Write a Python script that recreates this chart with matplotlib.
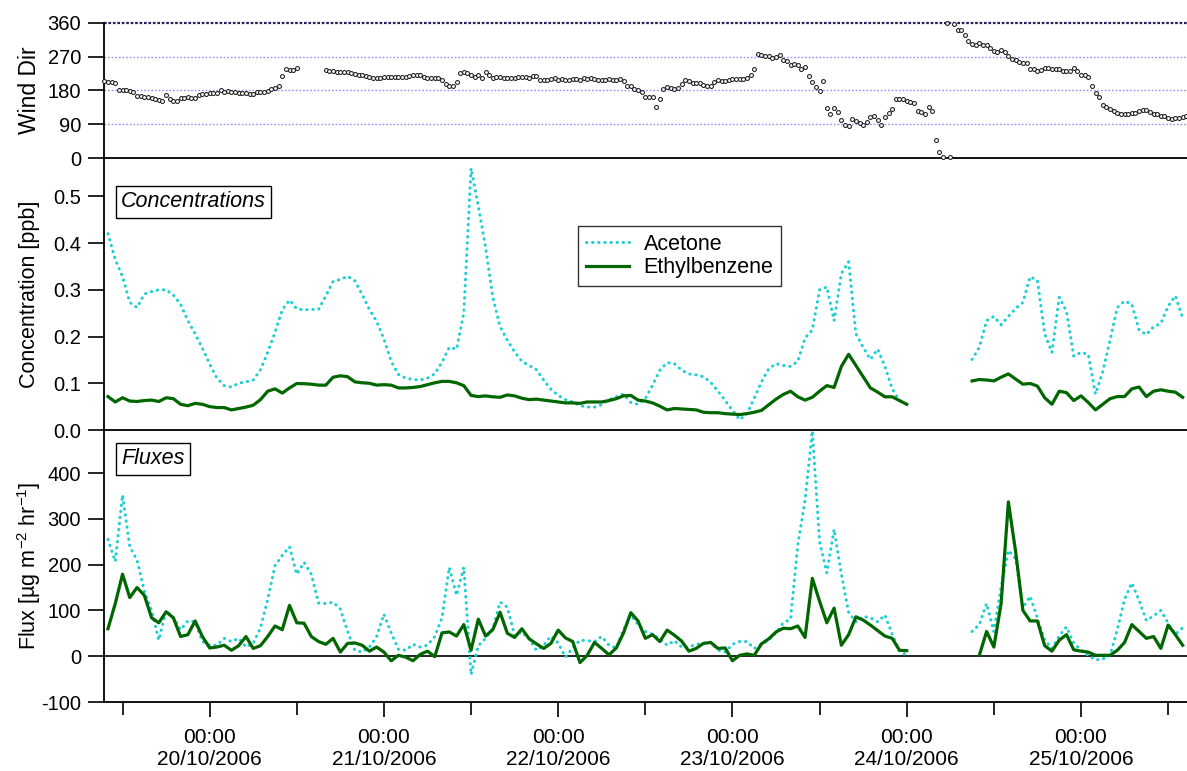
import numpy as np
import pandas as pd
import matplotlib
matplotlib.use('Agg')
import matplotlib.pyplot as plt
from matplotlib.lines import Line2D

plt.rcParams['font.family'] = ['Liberation Sans', 'DejaVu Sans']
plt.rcParams['axes.unicode_minus'] = False
nan = np.nan

# ---------------- data ----------------
hourly_start = '2006-10-19 10:00'   # hourly series
wind_start = '2006-10-19 09:30'     # 30-min wind series

wind_dir = [
    206, 203, 203, 200, 181, 180, 181, 178, 177, 166, 165, 163, 162, 160, 158, 154, 151, 167,
    158, 153, 152, 160, 161, 162, 160, 161, 169, 171, 170, 172, 173, 173, 181, 176, 178, 177,
    175, 173, 172, 172, 171, 171, 176, 176, 176, 178, 183, 187, 193, 218, 236, 234, 235, 240,
    nan, nan, nan, nan, nan, nan, nan,
    234, 231, 231, 228, 229, 229, 228, 226, 224, 222,
    220, 219, 216, 214, 212, 213, 216, 215, 216, 216,
    216, 215, 216, 218, 220, 222, 220, 215, 214, 212,
    212, 214, 209, 196, 191, 193, 202, 227, 230, 227,
    220, 216, 222, 214, 230, 220, 212, 215, 215, 214,
    213, 214, 214, 216, 216, 217, 214, 218, 218, 209,
    207, 209, 211, 212, 209, 210, 208, 209, 211, 211,
    209, 212, 211, 212,
    211, 209, 207, 209, 210, 208, 207, 211, 204, 193,
    191, 184, 180, 177, 163, 163, 162, 135, 157, 184,
    188, 186, 184, 187, 196, 209, 204, 201, 200, 199,
    195, 191, 191, 202, 209, 206, 204, 209, 211, 211,
    211, 211, 214, 220, 238, 277, 275, 273, 271, 267,
    269, 274, 260, 258, 248, 251, 249, 238, 243, 218,
    202, 189, 178, 204, 132, 118, 132, 122, 100, 89,
    86, 104, 99, 93, 89, 95, 109, 111, 102, 88,
    109, 120, 131, 156, 158, 158, 152, 148, 147, 124,
    122, 116, 136, 124, 49, 15, 4, 359, 2, 356,
    342, 340, 328, 311, 305, 300, 307, 302, 302, 292,
    284, 282, 289, 283, 271, 264, 260, 255, 253, 253,
    238, 236, 231, 234, 240, 239, 237, 238, 238, 231,
    232, 233, 240, 231, 222, 221, 216, 191, 172, 163,
    142, 137, 131, 124, 120, 116, 117, 118, 119, 120,
    125, 129, 127, 122, 117, 116, 111, 111, 107, 105,
    107, 107, 108, 111,
]

acetone_conc = [
    0.420, 0.365, 0.328, 0.273, 0.262, 0.291, 0.296, 0.300, 0.300, 0.289,
    0.269, 0.234, 0.206, 0.175, 0.141, 0.111, 0.095, 0.092, 0.100, 0.103,
    0.107, 0.129, 0.166, 0.209, 0.257, 0.278, 0.259, 0.257, 0.258, 0.258,
    0.287, 0.318, 0.322, 0.329, 0.319, 0.290, 0.258, 0.232, 0.195, 0.147,
    0.119, 0.111, 0.108, 0.107, 0.111, 0.120, 0.145, 0.177, 0.173, 0.250,
    0.560, 0.479, 0.391, 0.284, 0.221, 0.192, 0.167, 0.147, 0.138, 0.129,
    0.107, 0.087, 0.074, 0.065, 0.060, 0.052, 0.049, 0.049, 0.054, 0.065,
    0.071, 0.077, 0.059, 0.055, 0.067, 0.096, 0.128, 0.144, 0.142, 0.128,
    0.120, 0.118, 0.114, 0.102, 0.083, 0.063, 0.042, 0.022, 0.035, 0.068,
    0.103, 0.131, 0.142, 0.138, 0.136, 0.147, 0.197, 0.214, 0.300, 0.306,
    0.234, 0.335, 0.360, 0.206, 0.177, 0.151, 0.173, 0.136, 0.088, 0.063,
    0.055, nan, nan, nan, nan, nan, nan, nan, nan, 0.151,
    0.177, 0.234, 0.243, 0.225, 0.243, 0.260, 0.273, 0.328, 0.320, 0.206,
    0.166, 0.284, 0.254, 0.158, 0.166, 0.162, 0.077, 0.125, 0.192, 0.262,
    0.276, 0.269, 0.214, 0.204, 0.221, 0.228, 0.265, 0.287, 0.240,
]

ethylbenzene_conc = [
    0.0715, 0.060, 0.069, 0.062, 0.061, 0.063, 0.064, 0.061, 0.069, 0.067,
    0.055, 0.052, 0.057, 0.055, 0.050, 0.048, 0.048, 0.043, 0.046, 0.049,
    0.053, 0.065, 0.083, 0.088, 0.079, 0.090, 0.0995, 0.099, 0.098, 0.096,
    0.096, 0.113, 0.116, 0.114, 0.103, 0.101, 0.100, 0.096, 0.097, 0.096,
    0.090, 0.090, 0.091, 0.093, 0.097, 0.101, 0.104, 0.104, 0.101, 0.095,
    0.074, 0.0715, 0.073, 0.071, 0.070, 0.075, 0.073, 0.068, 0.065, 0.066,
    0.064, 0.062, 0.060, 0.058, 0.058, 0.057, 0.060, 0.060, 0.060, 0.063,
    0.067, 0.073, 0.074, 0.064, 0.062, 0.058, 0.051, 0.043, 0.046, 0.045,
    0.044, 0.043, 0.038, 0.037, 0.037, 0.035, 0.034, 0.033, 0.035, 0.038,
    0.042, 0.054, 0.066, 0.076, 0.083, 0.071, 0.064, 0.070, 0.083, 0.095,
    0.091, 0.136, 0.162, 0.138, 0.114, 0.090, 0.081, 0.071, 0.071, 0.063,
    0.055, nan, nan, nan, nan, nan, nan, nan, nan, 0.105,
    0.108, 0.107, 0.105, 0.113, 0.120, 0.109, 0.098, 0.0995, 0.094, 0.069,
    0.055, 0.083, 0.080, 0.063, 0.073, 0.059, 0.043, 0.055, 0.067, 0.0715,
    0.0715, 0.088, 0.092, 0.0715, 0.083, 0.086, 0.083, 0.081, 0.070,
]

acetone_flux = [
    255, 207, 352, 239, 210, 143, 100, 35, 100, 84,
    58, 77, 75, 32, 24, 24, 39, 32, 39, 20,
    28, 62, 124, 198, 220, 239, 179, 205, 179, 116,
    115, 118, 103, 54, 13, 9, 20, 43, 92, 51,
    15, 13, 26, 20, 24, 43, 84, 194, 133, 194,
    -40, 23, 39, 60, 118, 107, 45, 53, 38, 13,
    24, 44, 29, -2, 18, 35, 34, 32, 43, 24,
    18, 58, 90, 69, 54, 48, 38, 24, 34, 20,
    20, 26, 28, 30, 13, 9, 26, 32, 32, 17,
    26, 35, 51, 73, 81, 243, 341, 492, 250, 182,
    277, 179, 96, 75, 87, 84, 75, 90, 48, 11,
    2, nan, nan, nan, nan, nan, nan, nan, nan, 54,
    69, 115, 54, 152, 231, 213, 106, 131, 83, 35,
    17, 44, 64, 28, 14, 2, -8, -6, 2, 58,
    124, 160, 122, 78, 88, 100, 72, 48, 62,
]

ethylbenzene_flux = [
    60, 115, 179, 128, 150, 133, 84, 73, 97, 84,
    43, 47, 77, 43, 18, 20, 24, 13, 23, 43,
    17, 23, 43, 66, 58, 111, 73, 72, 43, 32,
    26, 39, 9, 28, 29, 24, 11, 20, 9, -10,
    2, -2, -10, 4, 11, -1, 51, 53, 44, 69,
    13, 81, 44, 58, 96, 50, 41, 60, 38, 27,
    17, 28, 57, 40, 32, -14, 2, 30, 17, 3,
    18, 51, 95, 77, 39, 47, 32, 57, 46, 33,
    11, 17, 28, 30, 17, 18, -10, 2, 5, 2,
    27, 38, 53, 61, 60, 66, 41, 170, 120, 73,
    105, 24, 47, 86, 79, 68, 56, 44, 39, 13,
    12, nan, nan, nan, nan, nan, nan, nan, nan, nan,
    2, 54, 20, 115, 337, 228, 100, 77, 77, 23,
    11, 35, 47, 14, 11, 9, 2, 2, 2, 13,
    30, 69, 54, 39, 43, 17, 68, 47, 24,
]

major_ticks = ['2006-10-20 00:00', '2006-10-21 00:00', '2006-10-22 00:00',
               '2006-10-23 00:00', '2006-10-24 00:00', '2006-10-25 00:00']
major_labels = ['00:00\n20/10/2006', '00:00\n21/10/2006', '00:00\n22/10/2006',
                '00:00\n23/10/2006', '00:00\n24/10/2006', '00:00\n25/10/2006']
minor_ticks = ['2006-10-19 12:00', '2006-10-20 12:00', '2006-10-21 12:00',
               '2006-10-22 12:00', '2006-10-23 12:00', '2006-10-24 12:00',
               '2006-10-25 12:00']
x_range = ['2006-10-19 09:27', '2006-10-25 14:36']

series_names = ['Acetone', 'Ethylbenzene']
wind_ticks = [0, 90, 180, 270, 360]
conc_ticks = [0.0, 0.1, 0.2, 0.3, 0.4, 0.5]
flux_ticks = [-100, 0, 100, 200, 300, 400]

# ---------------- figure ----------------
hourly_times = pd.date_range(hourly_start, periods=len(acetone_conc), freq='h')
wind_times = pd.date_range(wind_start, periods=len(wind_dir), freq='30min')

W, H = 1187, 771
fig = plt.figure(figsize=(W / 100, H / 100), dpi=100)
left = 104 / W
width = 1 - left
ax1 = fig.add_axes([left, 1 - 158 / H, width, 135 / H])
ax2 = fig.add_axes([left, 1 - 430 / H, width, 272 / H], sharex=ax1)
ax3 = fig.add_axes([left, 1 - 702 / H, width, 272 / H], sharex=ax1)

CYAN = '#1ccfd2'
GREEN = '#006600'

# wind
for v in (90, 180, 270):
    ax1.axhline(v, color='#9090ff', lw=1.0, ls=(0, (1.2, 1.4)), zorder=1)
ax1.axhline(360, color='#20205a', lw=1.6, ls=(0, (1.2, 0.8)), zorder=1, clip_on=False)
ax1.plot(wind_times, wind_dir, ls='none', marker='o', ms=2.8, mfc='white',
         mec='#1a1a1a', mew=0.75, zorder=3, clip_on=False)
ax1.set_ylim(0, 360)
ax1.set_yticks(wind_ticks)

dot = dict(ls=(0, (0.1, 1.9)), lw=2.2, dash_capstyle='round', color=CYAN)
solid = dict(ls='-', lw=2.3, color=GREEN)

# concentrations
ax2.plot(hourly_times, acetone_conc, **dot, zorder=2)
ax2.plot(hourly_times, ethylbenzene_conc, **solid, zorder=3)
ax2.set_ylim(0, 0.582)
ax2.set_yticks(conc_ticks)
ax2.set_yticklabels([f'{v:.1f}' for v in conc_ticks])

# fluxes
ax3.axhline(0, color='black', lw=1.2, zorder=1)
ax3.plot(hourly_times, acetone_flux, **dot, zorder=2)
ax3.plot(hourly_times, ethylbenzene_flux, **solid, zorder=3)
ax3.set_ylim(-100, 494)
ax3.set_yticks(flux_ticks)

# legend
leg_handles = [Line2D([], [], **dot), Line2D([], [], **solid)]
leg = ax2.legend(leg_handles, series_names, loc='upper left',
                 bbox_to_anchor=(0.4377, 0.75), fontsize=15.5, frameon=True,
                 fancybox=False, edgecolor='black', handlelength=2.0,
                 borderpad=0.35, labelspacing=0.12, handletextpad=0.7,
                 borderaxespad=0)
leg.get_frame().set_linewidth(1.0)

# annotation boxes
box = dict(boxstyle='square,pad=0.25', fc='white', ec='black', lw=1.0)
ax2.text(0.0157, 0.878, 'Concentrations', transform=ax2.transAxes, ha='left',
         va='top', fontsize=15.5, style='italic', bbox=box, zorder=5)
ax3.text(0.0157, 0.932, 'Fluxes', transform=ax3.transAxes, ha='left',
         va='top', fontsize=15.5, style='italic', bbox=box, zorder=5)

# axes styling
for ax in (ax1, ax2, ax3):
    for s in ('top', 'right'):
        ax.spines[s].set_visible(False)
    for s in ('left', 'bottom'):
        ax.spines[s].set_linewidth(1.3)
        ax.spines[s].set_color('black')
    ax.tick_params(axis='y', direction='out', length=11.5, width=1.2, pad=5,
                   labelsize=14.5)
    ax.patch.set_visible(False)

for ax in (ax1, ax2):
    ax.tick_params(axis='x', which='both', bottom=False, labelbottom=False)

ax3.set_xlim(pd.Timestamp(x_range[0]), pd.Timestamp(x_range[1]))
ax3.set_xticks([pd.Timestamp(t) for t in major_ticks])
ax3.set_xticklabels(major_labels)
ax3.set_xticks([pd.Timestamp(t) for t in minor_ticks], minor=True)
ax3.tick_params(axis='x', which='major', direction='out', length=11, width=1.2,
                pad=8, labelsize=15)
ax3.tick_params(axis='x', which='minor', direction='out', length=9, width=1.2)
for lab in ax3.get_xticklabels():
    lab.set_linespacing(1.15)

# y labels
ylab_x = (29.5 - 104) / 1083
ax1.set_ylabel('Wind Dir', fontsize=16.5, ha='center', va='center')
ax2.set_ylabel('Concentration [ppb]', fontsize=15.5, ha='center', va='center')
ax3.set_ylabel(r'Flux [µg m$^{\mathregular{-2}}$ hr$^{\mathregular{-1}}$]',
               fontsize=15.5, ha='center', va='center')
for ax in (ax1, ax2, ax3):
    ax.yaxis.set_label_coords(ylab_x, 0.5)

fig.savefig('out.png', dpi=100)
